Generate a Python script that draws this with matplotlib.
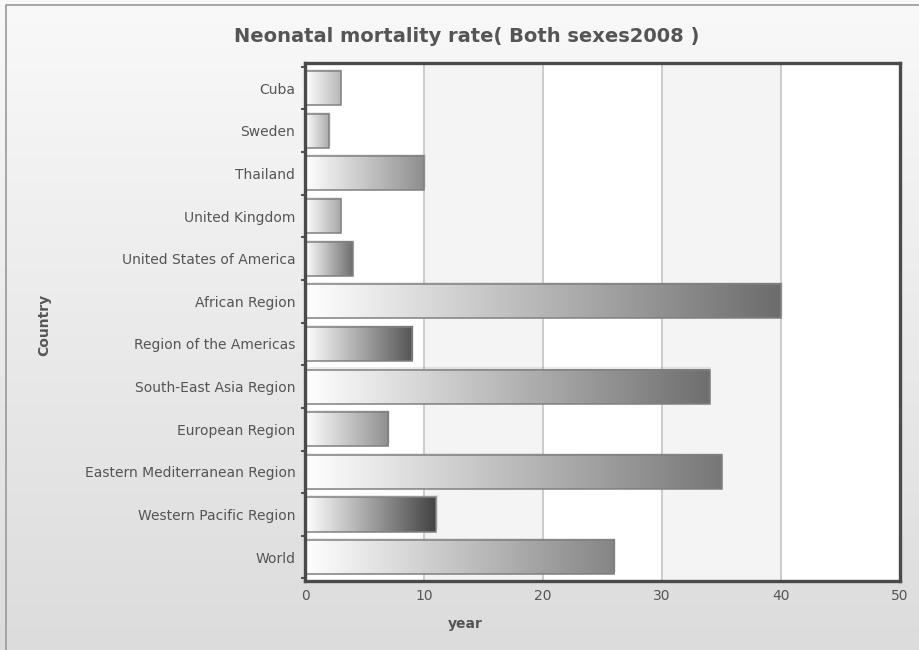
import numpy as np
import matplotlib.pyplot as plt
from matplotlib.colors import LinearSegmentedColormap
from matplotlib.patches import Rectangle

countries = ['Cuba', 'Sweden', 'Thailand', 'United Kingdom', 'United States of America',
             'African Region', 'Region of the Americas', 'South-East Asia Region',
             'European Region', 'Eastern Mediterranean Region', 'Western Pacific Region', 'World']
values = [3, 2, 10, 3, 4, 40, 9, 34, 7, 35, 11, 26]
# colour at the right end of each bar's gradient
end_colors = ['#b8b8b8', '#ababab', '#8e8e8e', '#a8a8a8', '#6e6e6e', '#6c6c6c',
              '#555555', '#6e6e6e', '#8f8f8f', '#777777', '#434343', '#858585']
x_ticks = [0, 10, 20, 30, 40, 50]

fig = plt.figure(figsize=(9.19, 6.5), dpi=100)

# page background: light vertical gradient with a thin border
bg = fig.add_axes([0, 0, 1, 1], zorder=-10)
grad = np.linspace(0, 1, 256).reshape(-1, 1)
bg_cmap = LinearSegmentedColormap.from_list('bg', ['#f9f9f9', '#dcdcdc'])
bg.imshow(grad, cmap=bg_cmap, aspect='auto', extent=[0, 1, 1, 0])
bg.set_xlim(0, 1)
bg.set_ylim(1, 0)
bg.plot([6 / 919, 6 / 919, 1], [1, 5 / 650, 5 / 650], color='#999999', lw=1.2)
bg.axis('off')

ax = fig.add_axes([305 / 919, 1 - 581 / 650, 595 / 919, 518 / 650])
ax.set_xlim(0, 50)
ax.set_ylim(11.56, -0.59)

# alternating bands between gridlines
for i in range(len(x_ticks) - 1):
    c = 'white' if i % 2 == 0 else '#f4f4f4'
    ax.axvspan(x_ticks[i], x_ticks[i + 1], color=c, zorder=0, lw=0)
for x in x_ticks[1:-1]:
    ax.axvline(x, color='#c4c4c4', lw=1.2, zorder=1)

h = 0.8
ramp = np.linspace(0, 1, 256).reshape(1, -1)
for i, (v, ec) in enumerate(zip(values, end_colors)):
    # soft shadow up and to the right
    ax.add_patch(Rectangle((0, i - h / 2 - 0.05), v + 0.15, h, color='#000000',
                           alpha=0.08, lw=0, zorder=2))
    cmap = LinearSegmentedColormap.from_list('bar%d' % i, ['#ffffff', ec])
    ax.imshow(ramp, cmap=cmap, aspect='auto', extent=[0, v, i + h / 2, i - h / 2],
              zorder=3, interpolation='bilinear')
    ax.add_patch(Rectangle((0, i - h / 2), v, h, fill=False, ec='#808080', lw=1.1, zorder=4))

ax.set_xticks(x_ticks)
ax.set_yticks(range(len(countries)))
ax.set_yticklabels(countries)
ax.set_yticks(np.arange(-0.5, len(countries), 1), minor=True)
ax.tick_params(axis='both', which='major', length=0, colors='#555555', labelsize=10)
ax.tick_params(axis='y', which='major', pad=7)
ax.tick_params(axis='x', which='major', pad=6)
ax.tick_params(axis='y', which='minor', length=3, width=1.5, color='#555555')
for s in ax.spines.values():
    s.set_color('#4a4a4a')
    s.set_linewidth(2.4)
    s.set_zorder(6)

fig.text(0.508, 1 - 37 / 650, 'Neonatal mortality rate( Both sexes2008 )', ha='center', va='center',
         fontsize=14, fontweight='bold', color='#555555')
fig.text(0.506, 1 - 624 / 650, 'year', ha='center', va='center', fontsize=10,
         fontweight='bold', color='#555555')
fig.text(44 / 919, 1 - 325 / 650, 'Country', ha='center', va='center', rotation=90,
         fontsize=10, fontweight='bold', color='#555555')

fig.savefig('out.png', dpi=100)
